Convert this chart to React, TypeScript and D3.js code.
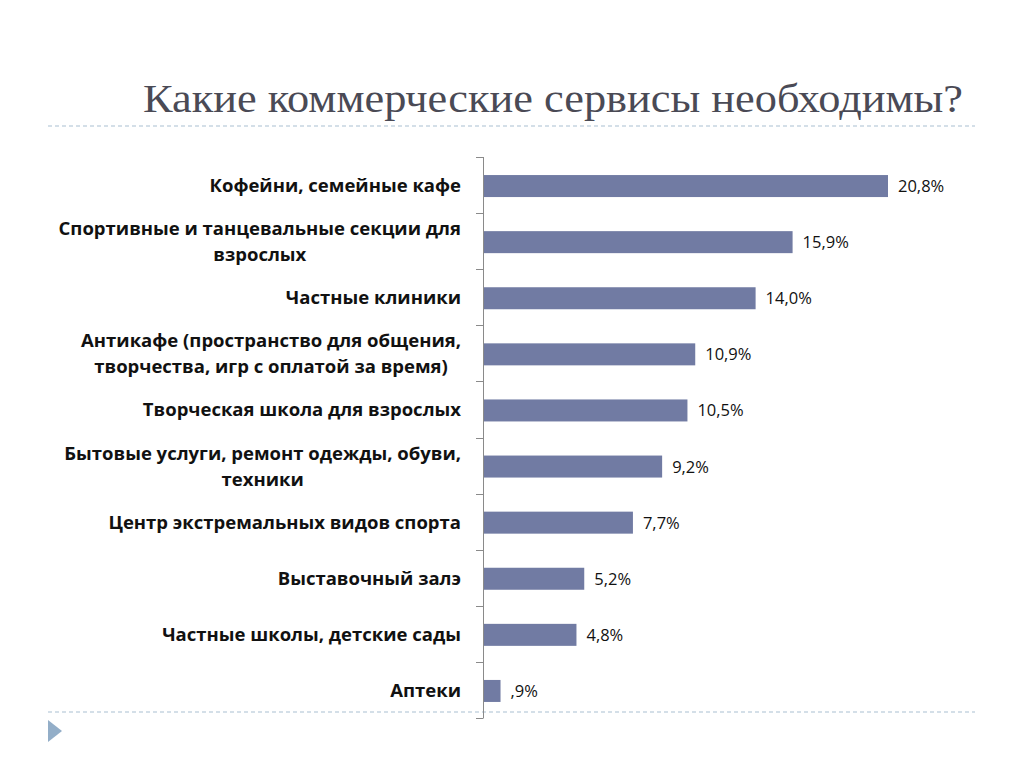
import React from 'react';
import * as d3 from 'd3';

const categories = [
  ['Кофейни, семейные кафе'],
  ['Спортивные и танцевальные секции для', 'взрослых'],
  ['Частные клиники'],
  ['Антикафе (пространство для общения,', 'творчества, игр с оплатой за время)'],
  ['Творческая школа для взрослых'],
  ['Бытовые услуги, ремонт одежды, обуви,', 'техники'],
  ['Центр экстремальных видов спорта'],
  ['Выставочный залэ'],
  ['Частные школы, детские сады'],
  ['Аптеки'],
];
const values = [20.8, 15.9, 14.0, 10.9, 10.5, 9.2, 7.7, 5.2, 4.8, 0.9];
const valueLabels = ['20,8%', '15,9%', '14,0%', '10,9%', '10,5%', '9,2%', '7,7%', '5,2%', '4,8%', ',9%'];
const title = 'Какие коммерческие сервисы необходимы?';

const W = 1024;
const H = 767;

function Chart() {
  const ref = React.useRef<SVGSVGElement>(null);

  React.useEffect(() => {
    const svg = d3.select(ref.current);
    svg.selectAll('*').remove();

    const axisX = 483;
    const top = 157;
    const bottom = 718;

    // slide frame
    svg.append('rect')
      .attr('x', 3.5).attr('y', 2.5).attr('width', 1016).attr('height', 761)
      .attr('fill', 'none').attr('stroke', '#ececec');

    svg.append('text')
      .attr('x', 143).attr('y', 112)
      .attr('font-family', '"Liberation Serif", serif')
      .attr('font-size', 39)
      .attr('fill', '#4a4a55')
      .attr('textLength', 820)
      .attr('lengthAdjust', 'spacingAndGlyphs')
      .text(title);

    [126, 712].forEach((y) => {
      svg.append('line')
        .attr('x1', 48).attr('x2', 975).attr('y1', y).attr('y2', y)
        .attr('stroke', '#a9bfd1').attr('stroke-width', 1)
        .attr('stroke-dasharray', '4,3');
    });

    svg.append('path')
      .attr('d', 'M48,720L62,731L48,742Z')
      .attr('fill', '#93aec8');

    const step = (bottom - top) / values.length;
    const x = d3.scaleLinear().domain([0, 20.8]).range([axisX, 888]);
    const cy = (i: number) => top + step * i + step / 2 + 1;

    svg.append('g')
      .selectAll('rect')
      .data(values)
      .join('rect')
      .attr('x', x(0))
      .attr('y', (d, i) => cy(i) - 11)
      .attr('width', (d) => x(d) - x(0))
      .attr('height', 22)
      .attr('fill', '#717ba3');

    // axis
    const axis = svg.append('g').attr('stroke', '#8a8a8a').attr('stroke-width', 1);
    axis.append('line')
      .attr('x1', axisX + 0.5).attr('x2', axisX + 0.5).attr('y1', top).attr('y2', bottom);
    d3.range(values.length + 1).forEach((i) => {
      const ty = Math.round(top + step * i) + 0.5;
      axis.append('line').attr('x1', axisX - 7).attr('x2', axisX + 0.5).attr('y1', ty).attr('y2', ty);
    });

    svg.append('g')
      .selectAll('text')
      .data(valueLabels)
      .join('text')
      .attr('x', (d, i) => x(values[i]) + 10)
      .attr('y', (d, i) => cy(i) + 6)
      .attr('font-family', '"Open Sans", sans-serif')
      .attr('font-size', 16.5)
      .attr('fill', '#111')
      .text((d) => d);

    const labelRight = 461;
    const lineH = 26;
    categories.forEach((lines, i) => {
      const g = svg.append('g')
        .attr('font-family', '"Open Sans", sans-serif')
        .attr('font-weight', 'bold')
        .attr('font-size', 18.5)
        .attr('fill', '#111');
      const texts = lines.map((l, j) =>
        g.append('text')
          .attr('y', cy(i) + (j - (lines.length - 1) / 2) * lineH + 6)
          .attr('text-anchor', 'middle')
          .text(l)
      );
      const maxW = d3.max(texts, (t) => (t.node() as SVGTextElement).getComputedTextLength()) || 0;
      texts.forEach((t) => t.attr('x', labelRight - maxW / 2));
    });
  }, []);

  return <svg ref={ref} width={W} height={H} style={{ display: 'block', background: '#fff' }} />;
}

export default function App() {
  return (
    <div style={{ margin: -8 }}>
      <Chart />
    </div>
  );
}
